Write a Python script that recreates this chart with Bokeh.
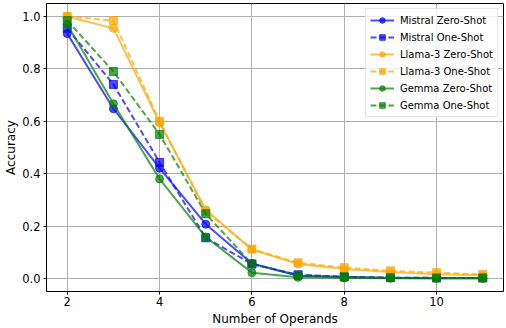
from bokeh.plotting import figure
from bokeh.models import FixedTicker, Range1d, Legend, LegendItem
from bokeh.embed import file_html
from bokeh.resources import INLINE

operands = [2, 3, 4, 5, 6, 7, 8, 9, 10, 11]

mistral_zero = [0.935, 0.648, 0.421, 0.207, 0.057, 0.010, 0.005, 0.002, 0.001, 0.001]
mistral_one = [0.955, 0.741, 0.443, 0.155, 0.055, 0.014, 0.006, 0.003, 0.002, 0.002]
llama_zero = [1.000, 0.955, 0.595, 0.262, 0.110, 0.055, 0.036, 0.024, 0.016, 0.011]
llama_one = [1.000, 0.985, 0.600, 0.255, 0.112, 0.060, 0.041, 0.029, 0.022, 0.015]
gemma_zero = [0.970, 0.667, 0.380, 0.158, 0.022, 0.004, 0.002, 0.001, 0.001, 0.001]
gemma_one = [0.985, 0.790, 0.550, 0.247, 0.055, 0.012, 0.006, 0.003, 0.002, 0.002]

series = [
    ("Mistral Zero-Shot", mistral_zero, "blue", "solid", "circle"),
    ("Mistral One-Shot", mistral_one, "blue", "dashed", "square"),
    ("Llama-3 Zero-Shot", llama_zero, "orange", "solid", "circle"),
    ("Llama-3 One-Shot", llama_one, "orange", "dashed", "square"),
    ("Gemma Zero-Shot", gemma_zero, "green", "solid", "circle"),
    ("Gemma One-Shot", gemma_one, "green", "dashed", "square"),
]

x_ticks = [2, 4, 6, 8, 10]
y_ticks = [0.0, 0.2, 0.4, 0.6, 0.8, 1.0]

p = figure(width=506, height=328, output_backend="svg", toolbar_location=None,
           x_range=Range1d(1.55, 11.45), y_range=Range1d(-0.05, 1.05),
           min_border_top=3, min_border_right=3, min_border_left=46, min_border_bottom=37)

FONT = "DejaVu Sans"

items = []
for name, vals, color, dash, marker in series:
    ld = "6 3" if dash == "dashed" else "solid"
    r1 = p.line(operands, vals, line_color=color, line_width=2, line_alpha=0.7, line_dash=ld)
    r2 = p.scatter(operands, vals, marker=marker, size=8, fill_color=color, fill_alpha=0.7,
                   line_color=color, line_alpha=0.7)
    items.append(LegendItem(label=name, renderers=[r1, r2]))

legend = Legend(items=items, location="top_right")
legend.label_text_font = FONT
legend.label_text_font_size = "10px"
legend.label_text_color = "#000000"
legend.border_line_color = "#cccccc"
legend.border_line_width = 1
legend.background_fill_color = "white"
legend.background_fill_alpha = 0.8
legend.glyph_width = 24
legend.glyph_height = 14
legend.label_height = 14
legend.spacing = 3
legend.padding = 4
legend.margin = 5
legend.label_standoff = 6
p.add_layout(legend)

p.xaxis.ticker = FixedTicker(ticks=x_ticks)
p.yaxis.ticker = FixedTicker(ticks=y_ticks)
p.yaxis.major_label_overrides = {t: f"{t:.1f}" for t in y_ticks}
p.xaxis.major_label_overrides = {t: str(t) for t in x_ticks}

for ax in (p.xaxis, p.yaxis):
    ax.minor_tick_line_color = None
    ax.major_tick_in = 0
    ax.major_tick_out = 3
    ax.major_tick_line_color = "black"
    ax.axis_line_color = "black"
    ax.major_label_text_font = FONT
    ax.major_label_text_font_size = "11.5px"
    ax.major_label_text_color = "#000000"
    ax.axis_label_text_font = FONT
    ax.axis_label_text_font_size = "12px"
    ax.axis_label_text_font_style = "normal"
    ax.axis_label_text_color = "#000000"

p.xaxis.major_label_standoff = 2
p.xaxis.axis_label_standoff = 3
p.yaxis.major_label_standoff = 3
p.yaxis.axis_label_standoff = 1

p.xaxis.axis_label = "Number of Operands"
p.yaxis.axis_label = "Accuracy"

p.xgrid.grid_line_color = "#b0b0b0"
p.ygrid.grid_line_color = "#b0b0b0"
p.xgrid.grid_line_width = 1
p.ygrid.grid_line_width = 1

p.outline_line_color = "black"
p.outline_line_width = 1
p.outline_line_alpha = 1
p.background_fill_color = "white"
p.border_fill_color = "white"

open("out.html", "w").write(file_html(p, INLINE))
